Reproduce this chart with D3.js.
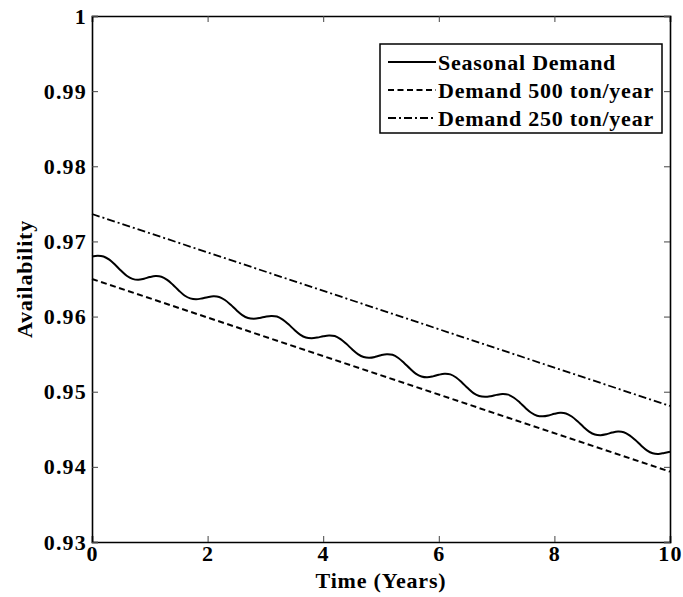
<!DOCTYPE html>
<html>
<head>
<meta charset="utf-8">
<script src="https://cdn.jsdelivr.net/npm/d3@7"></script>
<style>
  html, body { margin: 0; padding: 0; background: #fff; }
  text { font-family: "Liberation Serif", "Times New Roman", serif; font-weight: bold; }
</style>
</head>
<body>
<svg id="chart" width="683" height="597"></svg>
<script>
// ---- data ----
const seasonalYears = d3.range(0, 101).map(i => i / 10);
const seasonalValues = [
  0.96800, 0.96810, 0.96800, 0.96757, 0.96689, 0.96612, 0.96543, 0.96502, 0.96490, 0.96504,
  0.96526, 0.96539, 0.96531, 0.96489, 0.96423, 0.96348, 0.96281, 0.96242, 0.96231, 0.96241,
  0.96258, 0.96269, 0.96261, 0.96220, 0.96157, 0.96084, 0.96020, 0.95981, 0.95972, 0.95981,
  0.95998, 0.96009, 0.96001, 0.95960, 0.95897, 0.95824, 0.95760, 0.95721, 0.95712, 0.95721,
  0.95738, 0.95748, 0.95741, 0.95700, 0.95637, 0.95564, 0.95500, 0.95461, 0.95452, 0.95464,
  0.95486, 0.95499, 0.95491, 0.95449, 0.95383, 0.95308, 0.95241, 0.95202, 0.95191, 0.95204,
  0.95226, 0.95239, 0.95231, 0.95189, 0.95123, 0.95048, 0.94981, 0.94942, 0.94932, 0.94941,
  0.94958, 0.94969, 0.94961, 0.94920, 0.94857, 0.94784, 0.94720, 0.94681, 0.94672, 0.94684,
  0.94706, 0.94719, 0.94711, 0.94670, 0.94607, 0.94534, 0.94470, 0.94431, 0.94422, 0.94434,
  0.94456, 0.94469, 0.94461, 0.94420, 0.94357, 0.94284, 0.94220, 0.94181, 0.94172, 0.94185,
  0.94200
];
const constYears = [0, 10];
const demand500Values = [0.9650, 0.93936];
const demand250Values = [0.97365, 0.9481];

const xTicks = [0, 2, 4, 6, 8, 10];
const yTicks = [0.93, 0.94, 0.95, 0.96, 0.97, 0.98, 0.99, 1.0];
const yTickLabels = ["0.93", "0.94", "0.95", "0.96", "0.97", "0.98", "0.99", "1"];
const legendLabels = ["Seasonal Demand", "Demand 500 ton/year", "Demand 250 ton/year"];

// ---- layout ----
const W = 683, H = 597;
const m = { left: 92, right: 13, top: 16, bottom: 55 };
const iw = W - m.left - m.right, ih = H - m.top - m.bottom;

const svg = d3.select("#chart");
const g = svg.append("g").attr("transform", `translate(${m.left},${m.top})`);

const x = d3.scaleLinear().domain([0, 10]).range([0, iw]);
const y = d3.scaleLinear().domain([0.93, 1.0]).range([ih, 0]);

const styles = [
  { dash: null, width: 2 },
  { dash: "6,3.5", width: 2 },
  { dash: "8,3,2,3", width: 1.8 }
];

// lines
const line = d3.line().x(d => x(d[0])).y(d => y(d[1]));
const seasonalLine = d3.line().x(d => x(d[0])).y(d => y(d[1])).curve(d3.curveCatmullRom.alpha(0.5));

g.append("path")
  .datum(constYears.map((t, i) => [t, demand500Values[i]]))
  .attr("fill", "none").attr("stroke", "#000")
  .attr("stroke-width", styles[1].width).attr("stroke-dasharray", styles[1].dash)
  .attr("d", line);

g.append("path")
  .datum(constYears.map((t, i) => [t, demand250Values[i]]))
  .attr("fill", "none").attr("stroke", "#000")
  .attr("stroke-width", styles[2].width).attr("stroke-dasharray", styles[2].dash)
  .attr("d", line);

g.append("path")
  .datum(seasonalYears.map((t, i) => [t, seasonalValues[i]]))
  .attr("fill", "none").attr("stroke", "#000")
  .attr("stroke-width", styles[0].width)
  .attr("d", seasonalLine);

// axes (ticks inside, all four sides)
const tickLen = 6;
const xAxisB = d3.axisBottom(x).tickValues(xTicks).tickSize(-tickLen).tickPadding(3).tickFormat(d3.format("d"));
const xAxisT = d3.axisTop(x).tickValues(xTicks).tickSize(-tickLen).tickFormat("");
const yAxisL = d3.axisLeft(y).tickValues(yTicks).tickSize(-tickLen).tickPadding(5)
  .tickFormat((d, i) => yTickLabels[i]);
const yAxisR = d3.axisRight(y).tickValues(yTicks).tickSize(-tickLen).tickFormat("");

function styleAxis(sel) {
  sel.select(".domain").attr("stroke", "#000").attr("stroke-width", 1.6);
  sel.selectAll(".tick line").attr("stroke", "#444").attr("stroke-width", 1);
  sel.selectAll(".tick text").attr("fill", "#000")
    .style("font-size", "22px").style("letter-spacing", "1.2px");
}

g.append("g").attr("transform", `translate(0,${ih})`).call(xAxisB).call(styleAxis)
  .selectAll(".tick text").attr("dy", "0.72em");
g.append("g").call(xAxisT).call(styleAxis);
g.append("g").call(yAxisL).call(styleAxis);
g.append("g").attr("transform", `translate(${iw},0)`).call(yAxisR).call(styleAxis);

// axis titles
svg.append("text")
  .attr("x", m.left + iw / 2).attr("y", 588)
  .attr("text-anchor", "middle").style("font-size", "22px").style("letter-spacing", "0.8px")
  .text("Time (Years)");
svg.append("text")
  .attr("transform", `translate(32,${m.top + ih / 2}) rotate(-90)`)
  .attr("text-anchor", "middle").style("font-size", "22px").style("letter-spacing", "0.8px")
  .text("Availability");

// legend
const lg = svg.append("g");
lg.append("rect")
  .attr("x", 380).attr("y", 44).attr("width", 282).attr("height", 89)
  .attr("fill", "#fff").attr("stroke", "#000").attr("stroke-width", 1.5);
legendLabels.forEach((lab, i) => {
  const cy = 62 + i * 28;
  lg.append("line")
    .attr("x1", 388).attr("x2", 436).attr("y1", cy).attr("y2", cy)
    .attr("stroke", "#000").attr("stroke-width", styles[i].width)
    .attr("stroke-dasharray", styles[i].dash);
  lg.append("text")
    .attr("x", 438).attr("y", cy).attr("dy", "0.35em")
    .style("font-size", "22px").style("letter-spacing", "0.75px")
    .text(lab);
});
</script>
</body>
</html>
